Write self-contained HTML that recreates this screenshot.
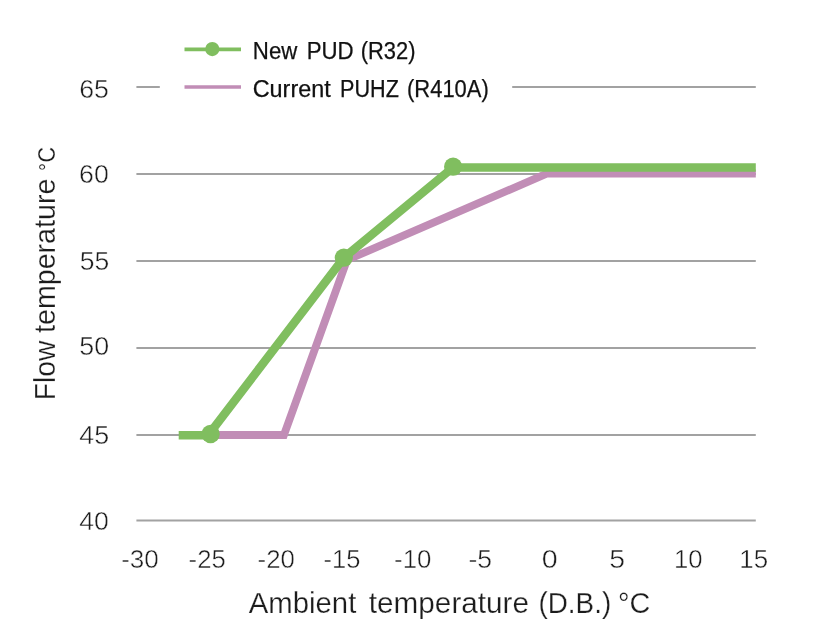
<!DOCTYPE html>
<html><head><meta charset="utf-8">
<style>
html,body{margin:0;padding:0;background:#fff;}
body{width:829px;height:627px;overflow:hidden;font-family:"Liberation Sans",sans-serif;}
svg{display:block}
text{font-family:"Liberation Sans",sans-serif;fill:#1c1c1c;stroke:#fff;stroke-width:0.45px}
#titles text{stroke-width:0.25px}
.lg text{fill:#111;stroke:#111;stroke-width:0.25px}
</style></head><body>
<svg width="829" height="627" viewBox="0 0 829 627" style="will-change:transform;opacity:0.999">
<rect width="829" height="627" fill="#fff"/>
<!-- grid -->
<g stroke="#a2a2a2" stroke-width="2" fill="none">
<line x1="136.4" y1="87" x2="159.8" y2="87"/>
<line x1="512.2" y1="87" x2="755.8" y2="87"/>
<line x1="136.4" y1="174" x2="755.8" y2="174"/>
<line x1="136.4" y1="261" x2="755.8" y2="261"/>
<line x1="136.4" y1="348" x2="755.8" y2="348"/>
<line x1="136.4" y1="435" x2="755.8" y2="435"/>
<line x1="136.4" y1="520.5" x2="755.8" y2="520.5"/>
</g>
<!-- series -->
<polyline id="pur" points="210,435 283.9,435 347,260 547.2,173.5 755.8,173.5" fill="none" stroke="#c18db6" stroke-width="7.8" stroke-linejoin="miter"/>
<polyline id="grn" points="178.7,435.15 208.3,435.15 344,257.6 453,167.4 755.8,167.4" fill="none" stroke="#80be5f" stroke-width="8.5" stroke-linejoin="round"/>
<g fill="#80be5f">
<circle cx="210.6" cy="434" r="9.2"/>
<circle cx="343.8" cy="257.7" r="9.1"/>
<circle cx="453.1" cy="166.7" r="9.1"/>
</g>
<!-- legend -->
<line x1="184.5" y1="49.4" x2="241" y2="49.4" stroke="#80be5f" stroke-width="3.6"/>
<circle cx="212.3" cy="49.1" r="7.1" fill="#80be5f"/>
<line x1="184.5" y1="87" x2="241" y2="87" stroke="#c18db6" stroke-width="3.6"/>
<g font-size="23" class="lg">
<text id="l1" x="252.84" y="58.9" textLength="44.46" lengthAdjust="spacingAndGlyphs">New</text>
<text id="l2" x="306.65" y="58.9" textLength="46.94" lengthAdjust="spacingAndGlyphs">PUD</text>
<text id="l3" x="360.76" y="58.9" textLength="54.77" lengthAdjust="spacingAndGlyphs">(R32)</text>
<text id="l4" x="252.73" y="96.5" textLength="77.98" lengthAdjust="spacingAndGlyphs">Current</text>
<text id="l5" x="340.09" y="96.5" textLength="58.75" lengthAdjust="spacingAndGlyphs">PUHZ</text>
<text id="l6" x="407.04" y="96.5" textLength="81.70" lengthAdjust="spacingAndGlyphs">(R410A)</text>
</g>
<!-- y ticks -->
<g font-size="26.1">
<text id="ty0" x="79.24" y="97.95" textLength="29.75" lengthAdjust="spacingAndGlyphs">65</text>
<text id="ty1" x="79.14" y="183.1" textLength="29.71" lengthAdjust="spacingAndGlyphs">60</text>
<text id="ty2" x="79.65" y="270.2" textLength="29.55" lengthAdjust="spacingAndGlyphs">55</text>
<text id="ty3" x="79.33" y="355.2" textLength="29.82" lengthAdjust="spacingAndGlyphs">50</text>
<text id="ty4" x="79.26" y="443.6" textLength="29.92" lengthAdjust="spacingAndGlyphs">45</text>
<text id="ty5" x="79.30" y="530.4" textLength="29.65" lengthAdjust="spacingAndGlyphs">40</text>
</g>
<!-- x ticks -->
<g font-size="26.1">
<text id="tx0" x="121.15" y="568.1" textLength="37.65" lengthAdjust="spacingAndGlyphs">-30</text>
<text id="tx1" x="188.58" y="568.1" textLength="37.13" lengthAdjust="spacingAndGlyphs">-25</text>
<text id="tx2" x="257.56" y="568.1" textLength="37.30" lengthAdjust="spacingAndGlyphs">-20</text>
<text id="tx3" x="323.48" y="568.1" textLength="36.89" lengthAdjust="spacingAndGlyphs">-15</text>
<text id="tx4" x="394.08" y="568.1" textLength="37.37" lengthAdjust="spacingAndGlyphs">-10</text>
<text id="tx5" x="468.44" y="568.1" textLength="23.64" lengthAdjust="spacingAndGlyphs">-5</text>
<text id="tx6" x="541.87" y="568.1" textLength="15.93" lengthAdjust="spacingAndGlyphs">0</text>
<text id="tx7" x="609.22" y="568.1" textLength="15.84" lengthAdjust="spacingAndGlyphs">5</text>
<text id="tx8" x="673.90" y="568.1" textLength="28.56" lengthAdjust="spacingAndGlyphs">10</text>
<text id="tx9" x="739.33" y="568.1" textLength="28.80" lengthAdjust="spacingAndGlyphs">15</text>
</g>
<g id="titles" font-size="30.4" style="stroke-width:0.25px">
<text id="w1" x="248.8" y="613" textLength="107.5" lengthAdjust="spacingAndGlyphs">Ambient</text>
<text id="w2" x="368.8" y="613" textLength="160.2" lengthAdjust="spacingAndGlyphs">temperature</text>
<text id="w3" x="538.4" y="613" textLength="72.8" lengthAdjust="spacingAndGlyphs">(D.B.)</text>
<text id="w4" x="618" y="613" textLength="32.3" lengthAdjust="spacingAndGlyphs">°C</text>
<g transform="translate(55.3,0) rotate(-90)" font-size="30.4">
<text id="v1" x="-400.3" y="0" textLength="59.6" lengthAdjust="spacingAndGlyphs">Flow</text>
<text id="v2" x="-333" y="0" textLength="154.4" lengthAdjust="spacingAndGlyphs">temperature</text>
<text id="v3" x="-171.0" y="0" font-size="24.5" style="stroke-width:0.2px" textLength="8.0" lengthAdjust="spacingAndGlyphs">°</text>
<text id="v4" x="-162.4" y="0" font-size="24.2" style="stroke-width:0.2px" textLength="15.6" lengthAdjust="spacingAndGlyphs">C</text>
</g>
</g>
</svg>
</body></html>
